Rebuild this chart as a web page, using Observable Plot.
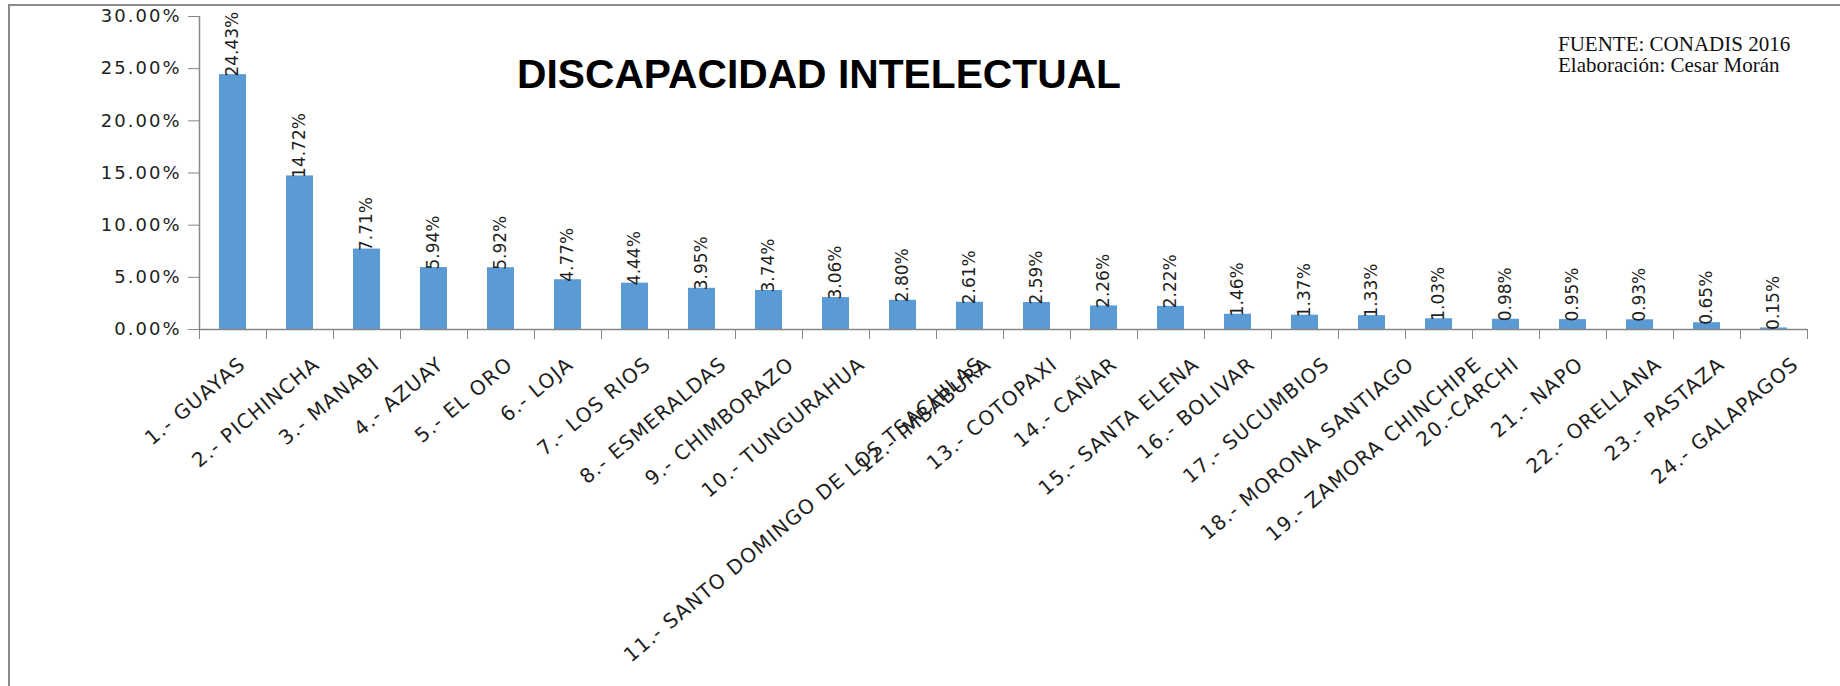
<!DOCTYPE html>
<html>
<head>
<meta charset="utf-8">
<script src="https://cdn.jsdelivr.net/npm/d3@7"></script>
<script src="https://cdn.jsdelivr.net/npm/@observablehq/plot@0.6"></script>
<style>
html, body { margin: 0; padding: 0; background: #fff; }
#wrap { position: relative; width: 1840px; height: 686px; overflow: hidden; background: #fff; }
#chart { position: absolute; left: 0; top: 0; }
#border { position: absolute; left: 8px; top: 4px; right: -10px; bottom: -10px; border-left: 2px solid #8a8a8a; border-top: 2px solid #8a8a8a; pointer-events: none; }
#title { position: absolute; left: 517px; top: 54px; font-family: "Liberation Sans Narrow", "Liberation Sans", Arial, sans-serif; font-weight: bold; font-size: 41px; line-height: 41px; white-space: nowrap; transform-origin: 0 0; color: #000; }
#source { position: absolute; left: 1558px; top: 34px; font-family: "Liberation Serif", "Times New Roman", serif; font-size: 21px; line-height: 21px; color: #111; white-space: nowrap; }
</style>
</head>
<body>
<div id="wrap">
  <div id="chart"></div>
  <div id="border"></div>
  <div id="title">DISCAPACIDAD INTELECTUAL</div>
  <div id="source">FUENTE: CONADIS 2016<br>Elaboración: Cesar Morán</div>
</div>
<script>
const provincias = [
  "1.- GUAYAS", "2.- PICHINCHA", "3.- MANABI", "4.- AZUAY", "5.- EL ORO", "6.- LOJA",
  "7.- LOS RIOS", "8.- ESMERALDAS", "9.- CHIMBORAZO", "10.- TUNGURAHUA",
  "11.- SANTO DOMINGO DE LOS TSACHILAS", "12.- IMBABURA", "13.- COTOPAXI", "14.- CAÑAR",
  "15.- SANTA ELENA", "16.- BOLIVAR", "17.- SUCUMBIOS", "18.- MORONA SANTIAGO",
  "19.- ZAMORA CHINCHIPE", "20.-CARCHI", "21.- NAPO", "22.- ORELLANA", "23.- PASTAZA",
  "24.- GALAPAGOS"
];
const porcentajes = [
  24.43, 14.72, 7.71, 5.94, 5.92, 4.77, 4.44, 3.95, 3.74, 3.06, 2.80, 2.61,
  2.59, 2.26, 2.22, 1.46, 1.37, 1.33, 1.03, 0.98, 0.95, 0.93, 0.65, 0.15
];
const yTicks = [0, 5, 10, 15, 20, 25, 30];

const data = provincias.map((p, i) => ({prov: p, pct: porcentajes[i]}));

const W = 1840, H = 686;
const mL = 199, mR = 33, mT = 16, mB = 357;
const step = (W - mL - mR) / provincias.length;
const gray = "#868686";

const chart = Plot.plot({
  width: W,
  height: H,
  marginLeft: mL,
  marginRight: mR,
  marginTop: mT,
  marginBottom: mB,
  style: {fontFamily: "'DejaVu Sans', Verdana, sans-serif", color: "#1e1e1e", background: "transparent", overflow: "visible"},
  x: {type: "band", domain: provincias, paddingInner: 0.6, paddingOuter: 0.3, label: null},
  y: {domain: [0, 30], label: null},
  marks: [
    Plot.barY(data, {x: "prov", y: "pct", fill: "#5b9bd5"}),
    Plot.ruleY([0], {stroke: gray, strokeWidth: 1.5}),
    Plot.ruleX([provincias[0]], {y1: 0, y2: 30, dx: -step / 2, stroke: gray, strokeWidth: 1.5}),
    Plot.axisY({ticks: yTicks, tickSize: 11, tickPadding: 7, fontSize: 18, stroke: gray, label: null,
      tickFormat: d => d.toFixed(2) + "%"}),
    Plot.axisX({ticks: provincias, tickSize: 10, tickFormat: () => "", dx: -step / 2, stroke: gray, label: null}),
    Plot.axisX({ticks: [provincias[provincias.length - 1]], tickSize: 10, tickFormat: () => "", dx: step / 2, stroke: gray, label: null}),
    Plot.text(provincias, {x: d => d, frameAnchor: "bottom", text: d => d, rotate: -40,
      textAnchor: "end", lineAnchor: "middle", dx: -15, dy: 32, fontSize: 20, ariaDescription: "categoria"}),
    Plot.text(data, {x: "prov", y: "pct", text: d => d.pct.toFixed(2) + "%", rotate: -90,
      textAnchor: "start", lineAnchor: "middle", dy: 2, fontSize: 17, ariaDescription: "valores"})
  ]
});

document.getElementById("chart").appendChild(chart);
const svg = d3.select(chart);
svg.selectAll("g[aria-label='y-axis tick label'] text").style("letter-spacing", "2px");
svg.selectAll("g[aria-description='categoria'] text")
  .style("letter-spacing", "1.2px")
  .each(function() {
    const L = this.getComputedTextLength();
    const t = this.getAttribute("transform") || "";
    this.setAttribute("transform", `translate(${(0.2 * L).toFixed(1)},0) ` + t);
  });

const title = document.getElementById("title");
const tw = title.getBoundingClientRect().width;
title.style.transform = `scaleX(${604 / tw})`;
</script>
</body>
</html>
